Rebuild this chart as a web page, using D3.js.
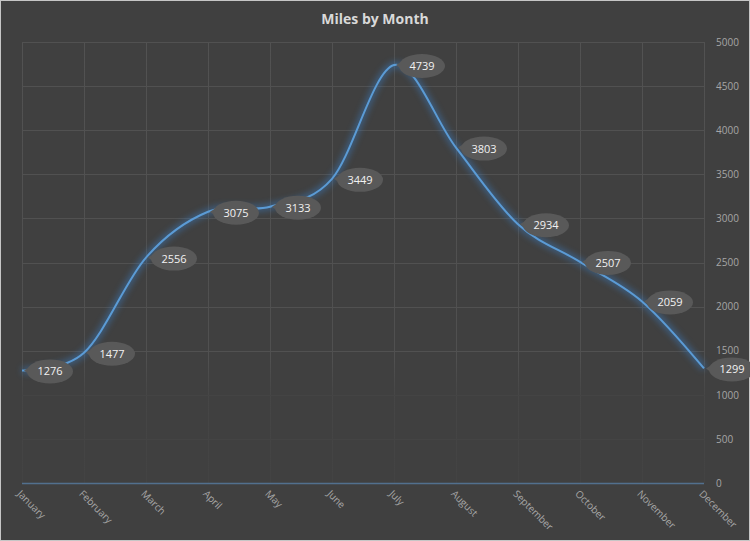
<!DOCTYPE html>
<html><head><meta charset="utf-8">
<script src="https://cdn.jsdelivr.net/npm/d3@7"></script>
<style>
html,body{margin:0;padding:0;background:#404040;}
svg{display:block;}
</style></head>
<body>
<svg id="c" width="750" height="541"></svg>
<script>
const months = ["January","February","March","April","May","June","July","August","September","October","November","December"];
const miles = [1276,1477,2556,3075,3133,3449,4739,3803,2934,2507,2059,1299];
const yTicks = [0,500,1000,1500,2000,2500,3000,3500,4000,4500,5000];
const title = "Miles by Month";

(function(){
const svg = d3.select("#c");
const W = 750, H = 541;
const pL = 22, pR = 704, pT = 42, pB = 483;

svg.append("rect").attr("x",0.5).attr("y",0.5).attr("width",W-1).attr("height",H-1)
  .attr("fill","#404040").attr("stroke","#c6c6c6").attr("stroke-width",1);

const defs = svg.append("defs");
const glow = defs.append("filter").attr("id","glow").attr("x","-20%").attr("y","-20%").attr("width","140%").attr("height","140%");
glow.append("feGaussianBlur").attr("in","SourceGraphic").attr("stdDeviation",3).attr("result","b");

const fade = defs.append("linearGradient").attr("id","fade").attr("gradientUnits","userSpaceOnUse")
  .attr("x1",0).attr("y1",pT).attr("x2",0).attr("y2",pB);
fade.append("stop").attr("offset","0%").attr("stop-color","#525252");
fade.append("stop").attr("offset","72%").attr("stop-color","#505050");
fade.append("stop").attr("offset","80%").attr("stop-color","#464646");
fade.append("stop").attr("offset","100%").attr("stop-color","#434343");

const x = d3.scalePoint().domain(months).range([pL,pR]);
const y = d3.scaleLinear().domain([0,5000]).range([pB,pT]);

svg.append("g").selectAll("line").data(months).join("line")
  .attr("x1",d=>x(d)+0.5).attr("x2",d=>x(d)+0.5).attr("y1",pT).attr("y2",pB)
  .attr("stroke","url(#fade)").attr("stroke-width",1);
svg.append("g").selectAll("line").data(yTicks.filter(t=>t>0)).join("line")
  .attr("x1",pL).attr("x2",pR+1).attr("y1",d=>Math.round(y(d))+0.5).attr("y2",d=>Math.round(y(d))+0.5)
  .attr("stroke",d=>y(d)>380?"#444444":"#515151").attr("stroke-width",1);

svg.append("line").attr("x1",pL).attr("x2",pR).attr("y1",pB+0.5).attr("y2",pB+0.5)
  .attr("stroke","#52708e").attr("stroke-width",1.5);

const yAxis = d3.axisRight(y).tickValues(yTicks).tickSize(0).tickPadding(0).tickFormat(d3.format("d"));
const ga = svg.append("g").attr("transform",`translate(${pR+12},0)`).call(yAxis);
ga.select(".domain").remove();
ga.selectAll("text").attr("fill","#a6a6a6").style("font-family","'Open Sans',sans-serif").style("font-size","10px");

const gx = svg.append("g");
gx.selectAll("text").data(months).join("text")
  .attr("transform",d=>`translate(${x(d)-3},${pB+9}) rotate(45)`)
  .attr("fill","#a6a6a6").style("font-family","'Open Sans',sans-serif").style("font-size","10px")
  .attr("dy","0.35em").text(d=>d);

const data = months.map((mo,i)=>({m:mo,v:miles[i]}));
const line = d3.line().x(d=>x(d.m)).y(d=>y(d.v)).curve(d3.curveCardinal.tension(0));
svg.append("path").datum(data).attr("d",line).attr("fill","none")
  .attr("stroke","#3a7cc0").attr("stroke-width",6).attr("opacity",0.55).attr("filter","url(#glow)");
svg.append("path").datum(data).attr("d",line).attr("fill","none")
  .attr("stroke","#5b9bd5").attr("stroke-width",2);

const lab = svg.append("g").selectAll("g").data(data).join("g")
  .attr("transform",d=>`translate(${x(d.m)+28},${y(d.v)+1})`);
lab.append("path").attr("d","M-26,-1 L-18,-6 L-18,5 Z").attr("fill","#595959");
lab.append("ellipse").attr("rx",23).attr("ry",12).attr("fill","#595959");
lab.append("text").attr("text-anchor","middle").attr("dy","0.36em")
  .attr("fill","#f2f2f2").style("font-family","'Open Sans',sans-serif").style("font-size","11px")
  .text(d=>d.v);

svg.append("text").attr("x",375).attr("y",24).attr("text-anchor","middle")
  .attr("fill","#d9d9d9").style("font-family","'Open Sans',sans-serif").style("font-weight","bold").style("font-size","14px")
  .text(title);
})();
</script>
</body></html>
